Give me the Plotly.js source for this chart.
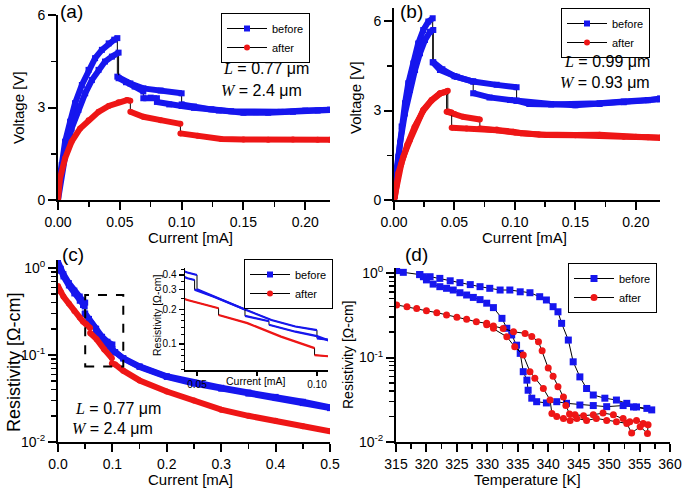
<!DOCTYPE html>
<html>
<head>
<meta charset="utf-8">
<script src="https://cdn.plot.ly/plotly-3.0.1.min.js"></script>
<style>html,body{margin:0;padding:0;background:#fff}#chart{width:685px;height:489px}</style>
</head>
<body>
<div id="chart"></div>
<script>
// ---------------- DATA ----------------
// (a) L = 0.77 um, W = 2.4 um : Voltage [V] vs Current [mA]
const aBefore1I = [0,0.0003,0.003,0.0057,0.0098,0.0138,0.0193,0.0247,0.030,0.0355,0.041,0.0455,0.048,0.048,0.0585,0.069,0.083,0.1,0.1,0.11,0.124,0.14,0.16,0.18,0.2,0.22];
const aBefore1V = [0,0.59,1.13,1.89,2.54,3.14,3.73,4.22,4.6,4.87,5.08,5.2,5.25,4.0,3.78,3.62,3.55,3.46,3.10,3.03,2.94,2.88,2.85,2.86,2.9,2.93];
const aBefore2I = [0,0.003,0.0065,0.011,0.0165,0.022,0.0274,0.0328,0.038,0.0436,0.049,0.049,0.055,0.062,0.069,0.069,0.075,0.08,0.08,0.09,0.1,0.11,0.13,0.15,0.17,0.19,0.21,0.22];
const aBefore2V = [0,0.9,1.6,2.32,2.92,3.46,3.89,4.22,4.49,4.65,4.78,3.95,3.82,3.68,3.52,3.30,3.32,3.30,3.18,3.10,3.05,2.99,2.9,2.83,2.83,2.86,2.9,2.92];
const aAfterI = [0,0.0016,0.0057,0.011,0.0179,0.0247,0.0328,0.041,0.049,0.0558,0.0585,0.0585,0.069,0.083,0.099,0.099,0.113,0.132,0.15,0.17,0.19,0.21,0.22];
const aAfterV = [0,0.70,1.35,1.89,2.32,2.59,2.86,3.05,3.17,3.24,3.22,2.86,2.70,2.59,2.47,2.16,2.08,1.98,1.96,1.95,1.96,1.95,1.95];

// (b) L = 0.99 um, W = 0.93 um
const bBefore1I = [0,0.0008,0.0036,0.0063,0.0091,0.0118,0.016,0.020,0.0242,0.0284,0.032,0.032,0.038,0.0518,0.0655,0.0849,0.1014,0.1014,0.112,0.13,0.15,0.17,0.19,0.21,0.22];
const bBefore1V = [0,0.67,1.45,2.46,3.24,3.91,4.58,5.25,5.70,5.98,6.09,4.62,4.36,4.13,3.97,3.86,3.78,3.33,3.22,3.2,3.2,3.24,3.3,3.35,3.38];
const bBefore2I = [0,0.002,0.005,0.009,0.0132,0.0174,0.0215,0.0256,0.0298,0.0325,0.0325,0.04,0.05,0.0655,0.0655,0.079,0.096,0.1014,0.112,0.13,0.15,0.17,0.19,0.21,0.22];
const bBefore2V = [0,0.9,1.9,2.9,3.69,4.36,4.92,5.36,5.64,5.70,4.62,4.38,4.15,3.97,3.58,3.44,3.35,3.33,3.24,3.22,3.18,3.22,3.28,3.34,3.40];
const bAfter1I = [0,0.0008,0.0036,0.0077,0.0132,0.0188,0.0242,0.031,0.038,0.0435,0.0435,0.05,0.057,0.071,0.071,0.085,0.0986,0.105,0.126,0.15,0.17,0.19,0.21,0.22];
const bAfter1V = [0,0.11,0.9,1.45,2.01,2.57,3.02,3.35,3.58,3.63,2.96,2.88,2.79,2.70,2.40,2.36,2.29,2.24,2.18,2.17,2.17,2.12,2.1,2.09];
const bAfter2I = [0,0.002,0.006,0.011,0.017,0.024,0.031,0.038,0.0445,0.0445,0.0477,0.0477,0.06,0.071,0.085,0.1,0.12,0.15,0.17,0.2,0.22];
const bAfter2V = [0,0.5,1.2,1.85,2.45,2.98,3.33,3.56,3.66,2.97,2.93,2.42,2.40,2.38,2.34,2.26,2.2,2.18,2.19,2.12,2.09];

// (c) Resistivity [Ohm-cm] vs Current [mA] (also shown in the inset)
const cBefore1I = [0,0.005,0.01,0.02,0.03,0.04,0.046,0.05,0.05,0.057,0.07,0.081,0.091,0.1,0.1,0.105,0.12,0.15,0.2,0.25,0.3,0.35,0.4,0.45,0.5];
const cBefore1R = [1.18,0.98,0.85,0.67,0.55,0.47,0.42,0.40,0.30,0.26,0.20,0.162,0.142,0.132,0.112,0.108,0.092,0.074,0.057,0.048,0.042,0.037,0.033,0.029,0.025];
const cBefore2I = [0,0.005,0.01,0.02,0.03,0.04,0.046,0.049,0.049,0.057,0.07,0.07,0.08,0.08,0.091,0.1,0.105,0.12,0.15,0.2,0.25,0.3,0.35,0.4,0.45,0.5];
const cBefore2R = [1.12,0.93,0.8,0.63,0.51,0.42,0.375,0.362,0.298,0.258,0.2,0.176,0.158,0.147,0.128,0.117,0.107,0.091,0.073,0.056,0.047,0.041,0.036,0.032,0.028,0.0245];
const cAfterI = [0,0.005,0.01,0.02,0.03,0.04,0.046,0.052,0.059,0.059,0.071,0.085,0.099,0.099,0.105,0.12,0.15,0.2,0.25,0.3,0.35,0.4,0.45,0.5];
const cAfterR = [0.62,0.53,0.47,0.39,0.32,0.27,0.242,0.225,0.205,0.179,0.152,0.116,0.092,0.080,0.078,0.066,0.051,0.038,0.030,0.0235,0.020,0.0175,0.0152,0.0133];

// (d) Resistivity [Ohm-cm] vs Temperature [K]
const dBeforeT = [315.1,316.2,318.9,320.6,322.2,323.9,325.5,327.2,328.8,330.4,332.1,333.7,335.4,337.0,338.6,339.7,340.8,341.6,342.2,343.3,344.1,345.2,346.3,347.4,349.3,351.2,352.9,354.5,356.2,357.0,
  354.0,352.3,349.6,347.4,345.2,343.0,341.4,339.7,338.1,337.3,336.7,336.5,335.9,335.4,334.8,334.0,333.2,332.4,331.0,329.9,328.8,327.7,326.6,325.5,324.4,323.3,322.2,321.1,320.0,319.5,318.9];
const dBeforeR = [1.07,1.02,0.96,0.905,0.865,0.81,0.77,0.73,0.69,0.66,0.63,0.63,0.60,0.585,0.525,0.48,0.40,0.348,0.254,0.161,0.089,0.059,0.043,0.036,0.033,0.0314,0.0287,0.026,0.025,0.024,
  0.026,0.027,0.0262,0.027,0.0274,0.0287,0.030,0.029,0.030,0.033,0.041,0.054,0.068,0.112,0.14,0.185,0.222,0.291,0.39,0.44,0.485,0.515,0.55,0.585,0.63,0.66,0.69,0.74,0.83,0.905,0.96];
const dAfterT = [315.1,316.8,318.4,320.0,321.7,323.3,325.0,326.6,328.2,329.9,331.0,332.6,334.3,336.2,337.3,338.4,339.0,340.0,340.8,341.6,342.5,342.9,343.5,344.4,345.8,347.4,349.0,350.7,352.3,353.4,354.5,355.6,356.4,
  356.3,355.1,353.7,352.9,351.2,349.6,347.9,346.3,344.7,343.6,342.5,341.4,340.6,340.3,339.2,337.8,337.0,335.9,334.5,333.2,331.0,329.9];
const dAfterR = [0.42,0.40,0.38,0.358,0.34,0.318,0.30,0.283,0.265,0.254,0.236,0.221,0.202,0.193,0.177,0.154,0.12,0.075,0.06,0.045,0.034,0.027,0.0215,0.021,0.0205,0.021,0.022,0.021,0.019,0.0174,0.018,0.0166,0.016,
  0.0126,0.0152,0.0128,0.0166,0.0174,0.018,0.019,0.018,0.019,0.018,0.019,0.020,0.0218,0.0314,0.043,0.057,0.068,0.107,0.134,0.176,0.222,0.245];

const seriesNames = ['before','after'];
const BLUE = '#1616ee', RED = '#ee1616';
const FONT = 'Liberation Sans, Arial, sans-serif';

// ---------------- HELPERS ----------------
const W = 685, H = 489;
const PX = v => v / W, PY = v => 1 - v / H;

// break the thick coloured band at vertical jumps (repeated x), so jumps show the thin black connector
function band(xs, ys) {
  const bx = [], by = [];
  for (let i = 0; i < xs.length; i++) {
    if (i > 0 && xs[i] === xs[i - 1]) { bx.push(null); by.push(null); }
    bx.push(xs[i]); by.push(ys[i]);
  }
  return {x: bx, y: by};
}
function series(xs, ys, o) {
  const main = {x: xs, y: ys, xaxis: o.xa, yaxis: o.ya, name: o.name, legend: o.legend,
    showlegend: !!o.showlegend, mode: o.msize ? 'lines+markers' : 'lines',
    line: {color: 'black', width: 1}, marker: {color: o.color, symbol: o.symbol, size: o.msize || 6},
    hoverinfo: 'skip'};
  const out = [main];
  if (o.bandW) {
    const b = band(xs, ys);
    out.push({x: b.x, y: b.y, xaxis: o.xa, yaxis: o.ya, mode: 'lines', connectgaps: false,
      line: {color: o.color, width: o.bandW}, showlegend: false, hoverinfo: 'skip'});
  }
  return out;
}

let traces = [];
traces = traces.concat(
  // (a)
  series(aBefore1I, aBefore1V, {xa:'x', ya:'y', color:BLUE, symbol:'square', name:seriesNames[0], legend:'legend', showlegend:true, bandW:6, msize:6}),
  series(aBefore2I, aBefore2V, {xa:'x', ya:'y', color:BLUE, symbol:'square', name:seriesNames[0], legend:'legend', bandW:6, msize:6}),
  series(aAfterI, aAfterV, {xa:'x', ya:'y', color:RED, symbol:'circle', name:seriesNames[1], legend:'legend', showlegend:true, bandW:6, msize:6}),
  // (b)
  series(bBefore1I, bBefore1V, {xa:'x2', ya:'y2', color:BLUE, symbol:'square', name:seriesNames[0], legend:'legend2', showlegend:true, bandW:6, msize:6}),
  series(bBefore2I, bBefore2V, {xa:'x2', ya:'y2', color:BLUE, symbol:'square', name:seriesNames[0], legend:'legend2', bandW:6, msize:6}),
  series(bAfter1I, bAfter1V, {xa:'x2', ya:'y2', color:RED, symbol:'circle', name:seriesNames[1], legend:'legend2', showlegend:true, bandW:6, msize:6}),
  series(bAfter2I, bAfter2V, {xa:'x2', ya:'y2', color:RED, symbol:'circle', name:seriesNames[1], legend:'legend2', bandW:6, msize:6}),
  // (c)
  series(cBefore1I, cBefore1R, {xa:'x3', ya:'y3', color:BLUE, symbol:'square', name:seriesNames[0], legend:'legend3', showlegend:true, bandW:6, msize:6}),
  series(cBefore2I, cBefore2R, {xa:'x3', ya:'y3', color:BLUE, symbol:'square', name:seriesNames[0], legend:'legend3', bandW:6, msize:6}),
  series(cAfterI, cAfterR, {xa:'x3', ya:'y3', color:RED, symbol:'circle', name:seriesNames[1], legend:'legend3', showlegend:true, bandW:6, msize:6}),
  // inset of (c)
  series(cBefore1I, cBefore1R, {xa:'x5', ya:'y5', color:BLUE, name:seriesNames[0], bandW:2.2}),
  series(cBefore2I, cBefore2R, {xa:'x5', ya:'y5', color:BLUE, name:seriesNames[0], bandW:2.2}),
  series(cAfterI, cAfterR, {xa:'x5', ya:'y5', color:RED, name:seriesNames[1], bandW:2.2}),
  // (d)
  series(dBeforeT, dBeforeR, {xa:'x4', ya:'y4', color:BLUE, symbol:'square', name:seriesNames[0], legend:'legend4', showlegend:true, msize:7}),
  series(dAfterT, dAfterR, {xa:'x4', ya:'y4', color:RED, symbol:'circle', name:seriesNames[1], legend:'legend4', showlegend:true, msize:7})
);

// ---------------- LAYOUT ----------------
function ax(extra) {
  return Object.assign({showline:true, linecolor:'black', linewidth:2, ticks:'outside', ticklen:8, tickwidth:2,
    tickcolor:'black', showgrid:false, zeroline:false, fixedrange:true,
    tickfont:{family:FONT, size:14, color:'black'}}, extra);
}
const logMinor = [0.02,0.03,0.04,0.05,0.06,0.07,0.08,0.09,0.2,0.3,0.4,0.5,0.6,0.7,0.8,0.9];
const logMajor = [0.01, 0.1, 1];
const logText = ['10<sup>-2</sup>','10<sup>-1</sup>','10<sup>0</sup>'];
const minorStd = {ticks:'outside', ticklen:5, tickwidth:1.5, tickcolor:'black'};

function legendBox(x, y) {
  return {x: PX(x), y: PY(y), xanchor:'left', yanchor:'top', bgcolor:'white', bordercolor:'black', borderwidth:1,
    font:{family:FONT, size:11, color:'black'}, itemwidth:40, tracegroupgap:0};
}
function note(text, x, y, size, extra) {
  return Object.assign({text:text, xref:'paper', yref:'paper', x:PX(x), y:PY(y), showarrow:false,
    font:{family:FONT, size:size, color:'black'}, xanchor:'center', yanchor:'middle'}, extra || {});
}
const Lsym = '<span style="font-family:Liberation Serif"><i>L</i></span>';
const Wsym = '<span style="font-family:Liberation Serif"><i>W</i></span>';

const layout = {
  width: W, height: H, margin:{l:0, r:0, t:0, b:0}, paper_bgcolor:'white', plot_bgcolor:'rgba(0,0,0,0)',
  font:{family:FONT, color:'black'},
  xaxis: ax({domain:[PX(58), PX(330)], range:[0, 0.22], anchor:'y', dtick:0.05, tickformat:'.2f', minor:Object.assign({dtick:0.025}, minorStd)}),
  yaxis: ax({domain:[PY(200), PY(15)], range:[0, 6], anchor:'x', dtick:3, minor:Object.assign({dtick:1.5}, minorStd)}),
  xaxis2: ax({domain:[PX(394), PX(660)], range:[0, 0.22], anchor:'y2', dtick:0.05, tickformat:'.2f', minor:Object.assign({dtick:0.025}, minorStd)}),
  yaxis2: ax({domain:[PY(200), PY(7.6)], range:[0, 6.45], anchor:'x2', dtick:3, minor:Object.assign({dtick:1.5}, minorStd)}),
  xaxis3: ax({domain:[PX(58), PX(330)], range:[0, 0.5], anchor:'y3', dtick:0.1, tickformat:'.1f', minor:Object.assign({dtick:0.05}, minorStd)}),
  yaxis3: ax({domain:[PY(442), PY(260)], type:'log', range:[-2, 0.092], anchor:'x3', tickmode:'array', tickvals:logMajor, ticktext:logText,
    minor:Object.assign({tickmode:'array', tickvals:logMinor}, minorStd)}),
  xaxis4: ax({domain:[PX(396), PX(670)], range:[315, 360], anchor:'y4', dtick:5, minor:Object.assign({dtick:2.5}, minorStd)}),
  yaxis4: ax({domain:[PY(442), PY(268)], type:'log', range:[-2, 0.06], anchor:'x4', tickmode:'array', tickvals:logMajor, ticktext:logText,
    minor:Object.assign({tickmode:'array', tickvals:logMinor}, minorStd)}),
  xaxis5: ax({domain:[PX(185), PX(328)], range:[0.045, 0.1046], anchor:'y5', tickmode:'array', tickvals:[0.05, 0.1], ticktext:['0.05','0.10'],
    linewidth:1.5, ticklen:4, tickwidth:1.5, tickfont:{family:FONT, size:10, color:'black'},
    minor:{tickmode:'array', tickvals:[0.075], ticks:'outside', ticklen:4, tickwidth:1.5, tickcolor:'black'}}),
  yaxis5: ax({domain:[PY(370), PY(268)], type:'log', range:[-1.227, -0.337], anchor:'x5', tickmode:'array', tickvals:[0.1,0.2,0.3,0.4], ticktext:['0.1','0.2','0.3','0.4'],
    linewidth:1.5, ticklen:5, tickwidth:1.2, tickfont:{family:FONT, size:10, color:'black'},
    minor:{tickmode:'array', tickvals:[0.06,0.07,0.08,0.09,0.12,0.14,0.16,0.18,0.25,0.35,0.45], ticks:'outside', ticklen:3, tickwidth:1, tickcolor:'black'}}),
  legend: legendBox(221, 13),
  legend2: legendBox(561, 8),
  legend3: legendBox(244, 259),
  legend4: legendBox(568, 263),
  shapes: [{type:'rect', xref:'x3', yref:'y3', x0:0.05, x1:0.12, y0:0.0736, y1:0.49, line:{color:'black', width:2, dash:'dash'}}],
  annotations: [
    note('(a)', 71, 12, 19), note('(b)', 411, 12, 19), note('(c)', 73, 254, 19), note('(d)', 416, 254, 19),
    note('Voltage [V]', 18, 108, 15, {textangle:-90}),
    note('Current [mA]', 190, 237, 15),
    note('Voltage [V]', 355, 98, 15, {textangle:-90}),
    note('Current [mA]', 524, 238, 15),
    note('Resistivity [Ω-cm]', 14, 363, 18, {textangle:-90}),
    note('Current [mA]', 190, 479, 15),
    note('Resistivity [Ω-cm]', 348, 355, 14, {textangle:-90}),
    note('Temperature [K]', 527, 479, 15),
    note('Resistivity [Ω-cm]', 157, 316, 10.5, {textangle:-90}),
    note('Current [mA]', 256, 381, 10.5),
    note(Lsym + ' = 0.77 μm', 266, 69, 16),
    note(Wsym + ' = 2.4 μm', 261, 90, 16),
    note(Lsym + ' = 0.99 μm', 652, 61, 16, {xanchor:'right'}),
    note(Wsym + ' = 0.93 μm', 652, 82, 16, {xanchor:'right'}),
    note(Lsym + ' = 0.77 μm', 118, 408, 16),
    note(Wsym + ' = 2.4 μm', 113, 428, 16)
  ]
};

Plotly.newPlot('chart', traces, layout, {displayModeBar:false, staticPlot:true});
</script>
</body>
</html>
